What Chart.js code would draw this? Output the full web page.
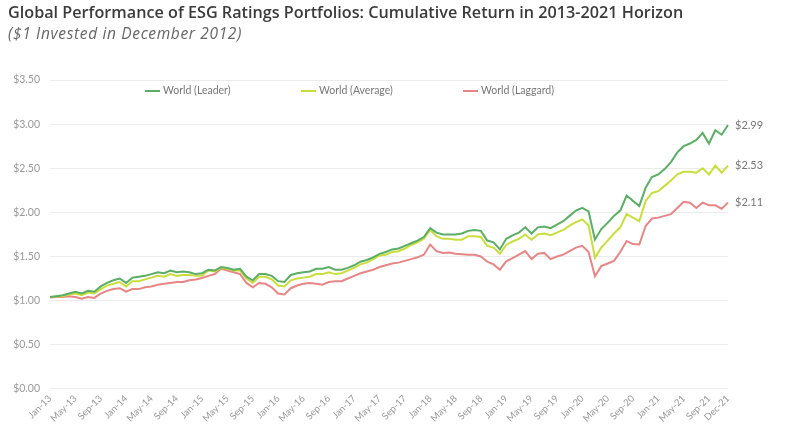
<!DOCTYPE html>
<html>
<head>
<meta charset="utf-8">
<script src="https://cdn.jsdelivr.net/npm/chart.js@4.4.1/dist/chart.umd.min.js"></script>
<style>
  body { margin: 0; background: #fff; font-family: "Open Sans", Lato, sans-serif; }
  #wrap { position: relative; width: 800px; height: 447px; overflow: hidden; }
  #title { position: absolute; left: 8px; top: 1px; font-size: 16.2px; font-weight: 600; color: #3b3b3b; white-space: nowrap; }
  #sub { position: absolute; left: 8px; top: 22px; font-size: 15.5px; font-style: italic; color: #666; white-space: nowrap; letter-spacing: 0.65px; }
  #chartBox { position: absolute; left: 0; top: 0; width: 800px; height: 447px; }
  .leg { position: absolute; top: 84px; font-size: 10.5px; color: #777; white-space: nowrap; font-family: Lato, sans-serif; }
  .leg i { display: inline-block; width: 15px; height: 2px; vertical-align: middle; margin-right: 3px; }
</style>
</head>
<body>
<div id="wrap">
  <div id="chartBox"><canvas id="perfChart"></canvas></div>
  <div id="title">Global Performance of ESG Ratings Portfolios: Cumulative Return in 2013-2021 Horizon</div>
  <div id="sub">($1 Invested in December 2012)</div>
  <div class="leg" style="left:145px"><i style="background:#5cad66"></i>World (Leader)</div>
  <div class="leg" style="left:301px"><i style="background:#c9de3e"></i>World (Average)</div>
  <div class="leg" style="left:463px"><i style="background:#e68686"></i>World (Laggard)</div>
</div>
<script>
// months Jan-13 .. Dec-21
const monthNames = ["Jan", "Feb", "Mar", "Apr", "May", "Jun", "Jul", "Aug", "Sep", "Oct", "Nov", "Dec"];
const years = ["13", "14", "15", "16", "17", "18", "19", "20", "21"];

const leader = [
    1.04, 1.05, 1.06, 1.08, 1.10, 1.08, 1.11, 1.10, 1.16, 1.20, 1.23, 1.25,
    1.20, 1.26, 1.27, 1.28, 1.30, 1.32, 1.31, 1.34, 1.32, 1.33, 1.32, 1.30,
    1.31, 1.35, 1.34, 1.38, 1.37, 1.35, 1.36, 1.27, 1.23, 1.30, 1.30, 1.28,
    1.22, 1.21, 1.29, 1.31, 1.32, 1.33, 1.36, 1.36, 1.38, 1.35, 1.35, 1.37,
    1.40, 1.44, 1.46, 1.49, 1.53, 1.55, 1.58, 1.59, 1.62, 1.65, 1.68, 1.72,
    1.82, 1.77, 1.75, 1.75, 1.75, 1.76, 1.79, 1.80, 1.79, 1.68, 1.66, 1.58,
    1.70, 1.74, 1.77, 1.83, 1.76, 1.83, 1.84, 1.82, 1.86, 1.90, 1.96, 2.02,
    2.05, 2.01, 1.69, 1.81, 1.88, 1.96, 2.02, 2.19, 2.13, 2.07, 2.28, 2.40,
    2.43, 2.49, 2.57, 2.68, 2.75, 2.78, 2.82, 2.90, 2.78, 2.93, 2.88, 2.99
];
const average = [
    1.04, 1.045, 1.05, 1.07, 1.08, 1.06, 1.09, 1.08, 1.13, 1.17, 1.19, 1.21,
    1.16, 1.22, 1.22, 1.24, 1.26, 1.28, 1.27, 1.30, 1.28, 1.29, 1.29, 1.28,
    1.28, 1.34, 1.33, 1.37, 1.36, 1.34, 1.34, 1.25, 1.20, 1.27, 1.27, 1.24,
    1.17, 1.16, 1.23, 1.25, 1.26, 1.27, 1.30, 1.30, 1.32, 1.30, 1.31, 1.34,
    1.37, 1.41, 1.43, 1.47, 1.51, 1.52, 1.55, 1.56, 1.59, 1.63, 1.66, 1.70,
    1.80, 1.73, 1.70, 1.70, 1.69, 1.69, 1.73, 1.73, 1.72, 1.62, 1.60, 1.53,
    1.63, 1.67, 1.70, 1.75, 1.69, 1.75, 1.76, 1.74, 1.77, 1.80, 1.85, 1.89,
    1.92, 1.85, 1.485, 1.60, 1.68, 1.76, 1.83, 1.98, 1.94, 1.90, 2.13, 2.22,
    2.24, 2.30, 2.36, 2.43, 2.46, 2.46, 2.45, 2.50, 2.43, 2.53, 2.45, 2.53
];
const laggard = [
    1.035, 1.04, 1.04, 1.05, 1.04, 1.02, 1.04, 1.03, 1.08, 1.11, 1.13, 1.14,
    1.10, 1.13, 1.13, 1.15, 1.16, 1.18, 1.19, 1.20, 1.21, 1.21, 1.23, 1.24,
    1.255, 1.28, 1.30, 1.36, 1.34, 1.32, 1.30, 1.20, 1.15, 1.20, 1.19, 1.15,
    1.08, 1.07, 1.14, 1.17, 1.19, 1.20, 1.19, 1.18, 1.21, 1.22, 1.22, 1.25,
    1.28, 1.31, 1.33, 1.35, 1.38, 1.40, 1.42, 1.43, 1.45, 1.47, 1.49, 1.52,
    1.635, 1.56, 1.54, 1.545, 1.53, 1.525, 1.52, 1.52, 1.50, 1.44, 1.41, 1.35,
    1.445, 1.48, 1.52, 1.56, 1.47, 1.53, 1.54, 1.47, 1.50, 1.52, 1.56, 1.60,
    1.62, 1.55, 1.275, 1.39, 1.42, 1.45, 1.55, 1.675, 1.64, 1.635, 1.845, 1.93,
    1.94, 1.96, 1.98, 2.05, 2.12, 2.11, 2.05, 2.11, 2.08, 2.08, 2.04, 2.11
];

const seriesNames = ["World (Leader)", "World (Average)", "World (Laggard)"];
const seriesColors = ["#5cad66", "#c9de3e", "#e68686"];
const yTicks = [0, 0.5, 1, 1.5, 2, 2.5, 3, 3.5];

const labels = [];
years.forEach(y => monthNames.forEach(m => labels.push(m + "-" + y)));

// value tags at the end of each line
const endLabels = {
    id: "endLabels",
    afterDatasetsDraw(chart) {
        const ctx = chart.ctx;
        chart.data.datasets.forEach((ds, i) => {
            const meta = chart.getDatasetMeta(i);
            const pt = meta.data[meta.data.length - 1];
            ctx.save();
            ctx.fillStyle = "#777";
            ctx.font = "11px Lato";
            ctx.textBaseline = "middle";
            ctx.fillText("$" + ds.data[ds.data.length - 1].toFixed(2), pt.x + 7, pt.y);
            ctx.restore();
        });
    }
};

const ctx = document.getElementById("perfChart").getContext("2d");
new Chart(ctx, {
    type: "line",
    data: {
        labels: labels,
        datasets: [leader, average, laggard].map((d, i) => ({
            label: seriesNames[i],
            data: d,
            borderColor: seriesColors[i],
            backgroundColor: seriesColors[i],
            borderWidth: 2,
            pointRadius: 0,
            tension: 0
        }))
    },
    options: {
        responsive: true,
        maintainAspectRatio: false,
        animation: false,
        layout: { padding: { top: 80, right: 72, left: 3, bottom: 19 } },
        scales: {
            x: {
                offset: false,
                grid: { display: false, drawTicks: false },
                border: { display: false },
                afterFit: s => { s.paddingLeft = 0; s.paddingRight = 0; },
                ticks: {
                    autoSkip: false,
                    minRotation: 45,
                    maxRotation: 45,
                    padding: 4,
                    color: "#999",
                    font: { size: 9.5, family: "Lato" },
                    callback: (v, i) => (i % 4 === 0 || i === labels.length - 1) ? labels[i] : null
                }
            },
            y: {
                min: 0,
                max: 3.5,
                afterBuildTicks: axis => { axis.ticks = yTicks.map(v => ({ value: v })); },
                afterFit: s => { s.width = 47; },
                grid: { color: "#ebebeb", drawTicks: false },
                border: { display: false },
                ticks: {
                    color: "#999",
                    padding: 10,
                    font: { size: 10.5, family: "Lato" },
                    callback: v => "$" + Number(v).toFixed(2)
                }
            }
        },
        plugins: {
            legend: { display: false },
            tooltip: { enabled: false }
        }
    },
    plugins: [endLabels]
});
</script>
</body>
</html>
